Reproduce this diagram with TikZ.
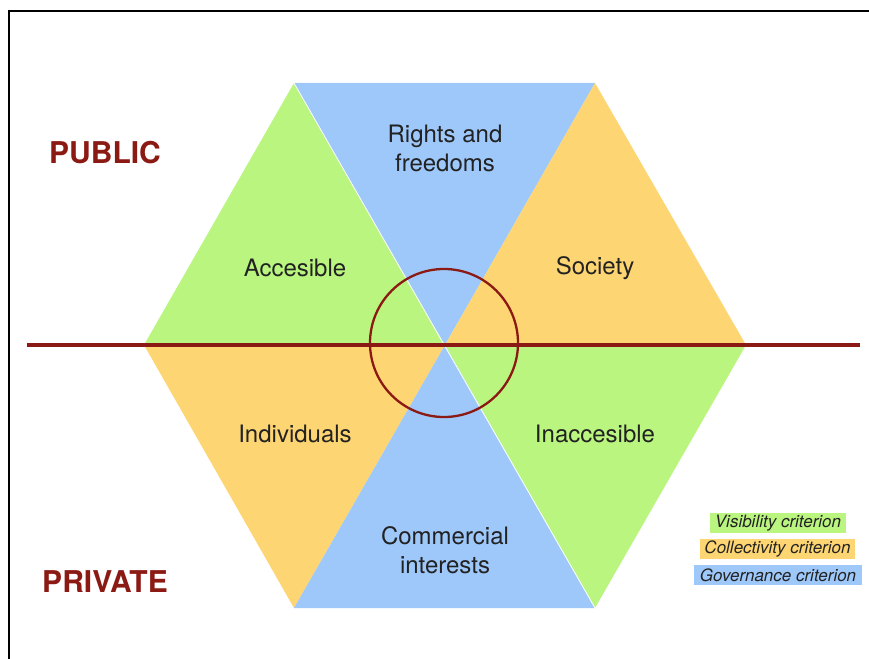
\documentclass[tikz,border=0pt]{standalone}
\usepackage{fontspec}
\setmainfont{TeX Gyre Heros}
\begin{document}
\definecolor{hexgreen}{RGB}{186,245,128}
\definecolor{hexblue}{RGB}{158,200,250}
\definecolor{hexorange}{RGB}{253,213,114}
\definecolor{axisred}{RGB}{140,26,20}
\definecolor{labelgray}{RGB}{34,34,34}
\begin{tikzpicture}[x=1pt,y=-1pt,
  sector/.style={font=\fontsize{24}{29}\selectfont, text=labelgray, align=center},
  side/.style={font=\fontsize{30}{34}\bfseries\selectfont, text=axisred},
  keytext/.style={font=\fontsize{17}{18}\itshape\selectfont, text=labelgray}]
\useasboundingbox (0,0) rectangle (869,658);
\fill[white] (0,0) rectangle (869,658);
% page frame, running off the right and bottom edges
\draw[line width=2pt] (9,670) -- (9,11) -- (880,11);

% hexagon corners
\coordinate (O) at (445,345);
\coordinate (TL) at (294,83);
\coordinate (TR) at (595,83);
\coordinate (L) at (144,345);
\coordinate (R) at (746,345);
\coordinate (BL) at (294,608);
\coordinate (BR) at (595,608);

% six sectors
\fill[hexgreen]  (O) -- (L) -- (TL) -- cycle;
\fill[hexblue]   (O) -- (TL) -- (TR) -- cycle;
\fill[hexorange] (O) -- (TR) -- (R) -- cycle;
\fill[hexorange] (O) -- (L) -- (BL) -- cycle;
\fill[hexblue]   (O) -- (BL) -- (BR) -- cycle;
\fill[hexgreen]  (O) -- (BR) -- (R) -- cycle;
\draw[white, line width=0.8pt] (TL) -- (BR);

% sector labels
\node[sector] (rights) at (445,148) {Rights and\\freedoms};
\node[sector] (acc) at (295,268) {Accesible};
\node[sector] (soc) at (595,268) {Society};
\node[sector] (ind) at (295,434) {Individuals};
\node[sector] (inacc) at (595,434) {Inaccesible};
\node[sector] (comm) at (445,550) {Commercial\\interests};

% public / private divide
\coordinate (axisL) at (27,345);
\coordinate (axisR) at (860,345);
\draw[axisred, line width=3.4pt] (axisL) -- (axisR);
\draw[axisred, line width=2.3pt] (444,343) circle[radius=74];

\node[side] (public) at (105,153) {PUBLIC};
\node[side] (private) at (105,582) {PRIVATE};

% legend
\fill[hexgreen]  (710,513) rectangle (846,533);
\fill[hexorange] (700,539) rectangle (855,559);
\fill[hexblue]   (694,565) rectangle (862,585);
\node[keytext] (vis) at (778,523) {Visibility criterion};
\node[keytext] (col) at (777.5,549) {Collectivity criterion};
\node[keytext] (gov) at (778,575) {Governance criterion};
\end{tikzpicture}
\end{document}
